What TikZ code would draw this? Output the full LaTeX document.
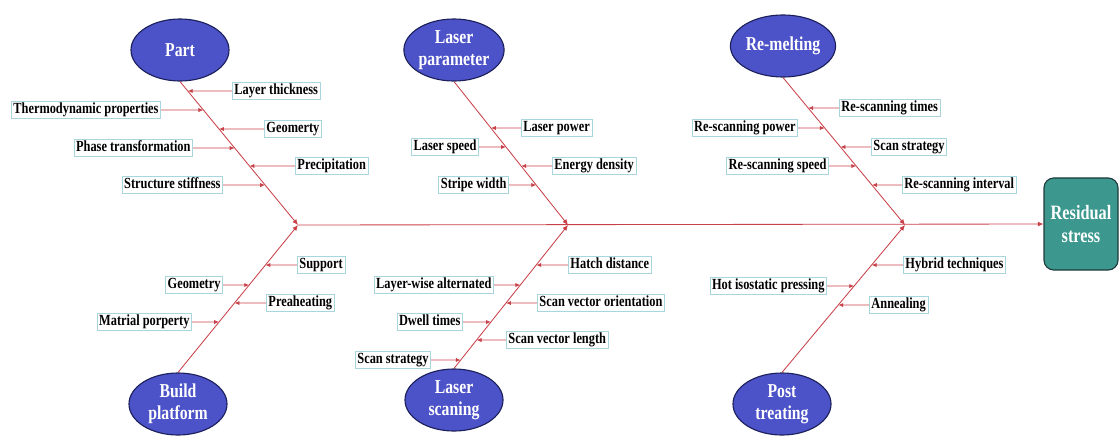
\documentclass[tikz,border=0pt]{standalone}
\usepackage{fontspec}
\setmainfont{Liberation Serif}[FakeStretch=0.8]
\usetikzlibrary{arrows.meta,shapes.geometric}
\definecolor{bonered}{RGB}{200,64,72}
\definecolor{causeblue}{RGB}{76,82,200}
\definecolor{causeedge}{RGB}{28,32,90}
\definecolor{effectteal}{RGB}{60,152,142}
\definecolor{effectedge}{RGB}{30,58,58}
\definecolor{lbledge}{RGB}{168,214,220}
\tikzset{
  cause/.style={ellipse, draw=causeedge, line width=0.8pt, fill=causeblue, text=white,
    minimum width=2.45cm, minimum height=1.55cm, inner sep=0pt, align=center,
    font=\fontsize{14}{15.5}\selectfont\bfseries},
  effect/.style={rounded corners=7pt, draw=effectedge, line width=0.8pt, fill=effectteal,
    text=white, minimum width=1.85cm, minimum height=2.3cm, align=center,
    font=\fontsize{14.5}{16.5}\selectfont\bfseries},
  lbl/.style={draw=lbledge, line width=0.5pt, fill=white, inner xsep=1.5pt, inner ysep=1.2pt,
    text height=7.4pt, text depth=2pt, font=\fontsize{11}{12}\selectfont\bfseries},
  bone/.style={draw=bonered, line width=0.6pt, -{Latex[length=4pt,width=3.5pt]}},
  branch/.style={draw=bonered, line width=0.6pt, -{Latex[length=3.5pt,width=3pt]}}
}

\begin{document}
\begin{tikzpicture}[x=0.025cm, y=-0.025cm]
		%%%%% FRAME %%%%%
		\useasboundingbox (0,0) rectangle (1119,435);
		
		%%%%% HEAD AND SPINE %%%%%
		\node[effect] (rs) at (1081,224) {Residual\\stress};
		\coordinate (j1) at (298,225);
		\coordinate (j2) at (568,225);
		\coordinate (j3) at (905,225);
		\draw[bone] (j1) -- (rs.west);
		
		%%%%% CAUSES %%%%%
		\node[cause] (part) at (180,50) {Part};
		\node[cause] (lpar) at (454,50) {Laser\\parameter};
		\node[cause] (remelt) at (783,46) {Re-melting};
		\node[cause] (build) at (178,404) {Build\\platform};
		\node[cause] (lscan) at (454,400) {Laser\\scaning};
		\node[cause] (post) at (782,404) {Post\\treating};
		
		\draw[bone] (part.south) -- (j1);
		\draw[bone] (build.north) -- (j1);
		\draw[bone] (lpar.south) -- (j2);
		\draw[bone] (lscan.north) -- (j2);
		\draw[bone] (remelt.south) -- (j3);
		\draw[bone] (post.north) -- (j3);
		
		%%%%% SUB-CAUSES %%%%%
		% part
		\foreach \nm/\anc/\x/\y/\txt in {lthick/west/232/91/Layer thickness,
		    thermo/east/161/110/Thermodynamic properties, geoma/west/264/129/Geomerty,
		    phase/east/193/148/Phase transformation, precip/west/295/166/Precipitation,
		    stiff/east/223/185/Structure stiffness}{
		  \node[lbl, anchor=\anc] (\nm) at (\x,\y) {\txt};
		  \draw[branch] (\nm) -- (intersection of part.south--j1 and \nm.west--\nm.east);
		}
		% build platform
		\foreach \nm/\anc/\x/\y/\txt in {support/west/297/265/Support,
		    geomb/east/223/285/Geometry, preheat/west/266/303/Preaheating,
		    matprop/east/192/322/Matrial porperty}{
		  \node[lbl, anchor=\anc] (\nm) at (\x,\y) {\txt};
		  \draw[branch] (\nm) -- (intersection of build.north--j1 and \nm.west--\nm.east);
		}
		% laser parameter
		\foreach \nm/\anc/\x/\y/\txt in {lpower/west/521/128/Laser power,
		    lspeed/east/479/147/Laser speed, edens/west/552/166/Energy density,
		    stripe/east/509/185/Stripe width}{
		  \node[lbl, anchor=\anc] (\nm) at (\x,\y) {\txt};
		  \draw[branch] (\nm) -- (intersection of lpar.south--j2 and \nm.west--\nm.east);
		}
		% laser scanning
		\foreach \nm/\anc/\x/\y/\txt in {hatch/west/568/265/Hatch distance,
		    lwalt/east/494/285/Layer-wise alternated, svorient/west/537/303/Scan vector orientation,
		    dwell/east/463/322/Dwell times, svlen/west/506/340/Scan vector length,
		    sstrata/east/431/360/Scan strategy}{
		  \node[lbl, anchor=\anc] (\nm) at (\x,\y) {\txt};
		  \draw[branch] (\nm) -- (intersection of lscan.north--j2 and \nm.west--\nm.east);
		}
		% re-melting
		\foreach \nm/\anc/\x/\y/\txt in {rstimes/west/839/108/Re-scanning times,
		    rspower/east/798/128/Re-scanning power, sstratb/west/871/147/Scan strategy,
		    rsspeed/east/829/166/Re-scanning speed, rsint/west/902/185/Re-scanning interval}{
		  \node[lbl, anchor=\anc] (\nm) at (\x,\y) {\txt};
		  \draw[branch] (\nm) -- (intersection of remelt.south--j3 and \nm.west--\nm.east);
		}
		% post treating
		\foreach \nm/\anc/\x/\y/\txt in {hybrid/west/903/265/Hybrid techniques,
		    hip/east/827/286/Hot isostatic pressing, anneal/west/869/305/Annealing}{
		  \node[lbl, anchor=\anc] (\nm) at (\x,\y) {\txt};
		  \draw[branch] (\nm) -- (intersection of post.north--j3 and \nm.west--\nm.east);
		}
		%%%%% END %%%%%
	\end{tikzpicture}
\end{document}
